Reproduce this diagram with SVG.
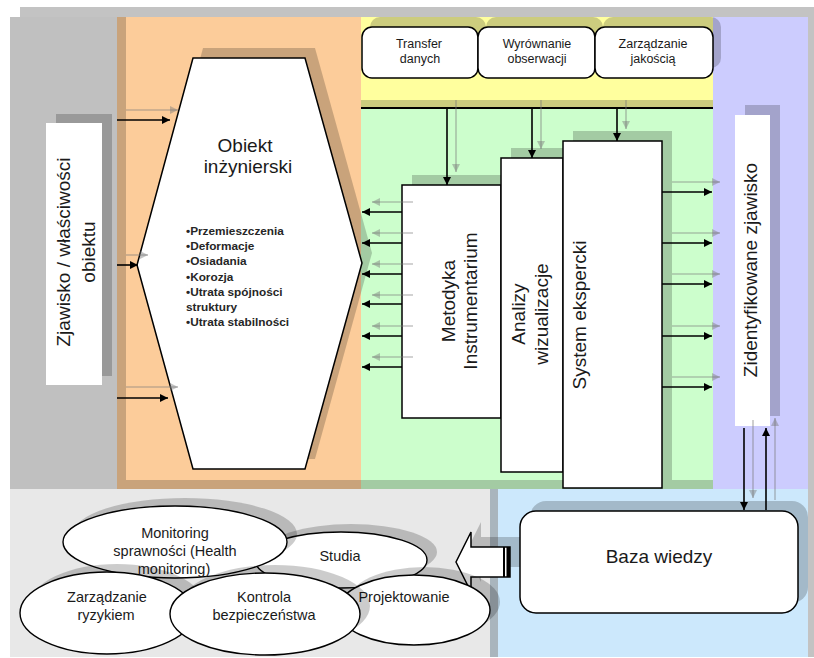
<svg xmlns="http://www.w3.org/2000/svg" width="814" height="658" viewBox="0 0 814 658">
<style>
text{font-family:"Liberation Sans",Arial,sans-serif;fill:#1a1a1a}
.sh{fill:#000;fill-opacity:0.2}
.box{fill:#fff;stroke:#000;stroke-width:1.5}
.bk{stroke:#000;stroke-width:1.6;fill:none}
.gy{stroke:#7a7a7a;stroke-opacity:0.45;stroke-width:1.6;fill:none}
.ell{fill:#fff;stroke:#000;stroke-width:1.4}
.t12{font-size:12.5px}
.bl{font-size:11.8px;font-weight:bold;fill:#262626}
.t14{font-size:14.5px}
.t19{font-size:19px}
</style>
<defs>
<marker id="ab" viewBox="0 0 10 10" refX="10" refY="5" markerWidth="9" markerHeight="8" markerUnits="userSpaceOnUse" orient="auto"><path d="M0,0 L10,5 L0,10 z" fill="#000"/></marker>
<marker id="ag" viewBox="0 0 10 10" refX="10" refY="5" markerWidth="9" markerHeight="8" markerUnits="userSpaceOnUse" orient="auto"><path d="M0,0 L10,5 L0,10 z" fill="#7a7a7a" fill-opacity="0.45"/></marker>
</defs>
<rect width="814" height="658" fill="#fff"/>
<g id="panels">
<rect x="20" y="7" width="794" height="10" fill="#c3c3c3"/>
<rect x="808" y="7" width="6" height="650" fill="#c3c3c3"/>
<rect x="10" y="17" width="107" height="473" fill="#c0c0c0"/>
<rect x="117" y="17" width="244" height="472" fill="#fccc9a"/>
<rect x="117" y="17" width="9" height="472" class="sh"/>
<rect x="126" y="480" width="235" height="9" class="sh"/>
<rect x="361" y="17" width="352" height="91" fill="#ffff9e"/>
<rect x="361" y="100" width="352" height="8" class="sh"/>
<line x1="713" y1="99.5" x2="722" y2="99.5" stroke="#000" stroke-opacity="0.2" stroke-width="1.5"/>
<rect x="361" y="108" width="352" height="381" fill="#ccfecc"/>
<rect x="361" y="480" width="352" height="9" class="sh"/>
<rect x="713" y="17" width="95" height="472" fill="#ccccfe"/>
<rect x="10" y="489" width="480" height="168" fill="#e8e8e8"/>
<rect x="490" y="489" width="318" height="168" fill="#cce8fc"/>
<rect x="490" y="489" width="8" height="168" fill="#a9b5bd"/>
<line x1="361" y1="108" x2="713" y2="108" stroke="#000" stroke-width="2"/>
</g>
<g id="zjawisko">
<rect x="56" y="114" width="56" height="262" class="sh"/>
<rect x="46" y="123" width="56" height="262" fill="#fff"/>
<text class="t19" text-anchor="middle" transform="translate(70,252) rotate(-90)">Zjawisko / właściwości</text>
<text class="t19" text-anchor="middle" transform="translate(95,252) rotate(-90)">obiektu</text>
</g>
<g id="obiekt">
<polygon points="203,48 315,48 372,253 315,459 203,459 147,255" class="sh"/>
<polygon points="193,58 305,58 362,263 305,469 193,469 137,265" fill="#fff" stroke="#000" stroke-width="1.5"/>
<text class="t19" text-anchor="middle" x="245" y="152">Obiekt</text>
<text class="t19" text-anchor="middle" x="248" y="173">inżynierski</text>
<text class="bl" x="186" y="235">•Przemieszczenia</text>
<text class="bl" x="186" y="250.2">•Deformacje</text>
<text class="bl" x="186" y="265.4">•Osiadania</text>
<text class="bl" x="186" y="280.6">•Korozja</text>
<text class="bl" x="186" y="295.8">•Utrata spójności</text>
<text class="bl" x="186" y="311">struktury</text>
<text class="bl" x="186" y="326.2">•Utrata stabilności</text>
</g>
<g id="top-shadows">
<rect x="370" y="17" width="116" height="51" rx="10" class="sh"/>
<rect x="486" y="17" width="117" height="51" rx="10" class="sh"/>
<rect x="603" y="17" width="118" height="51" rx="10" class="sh"/>
</g>
<g id="transfer">
<rect x="362" y="27" width="116" height="51" rx="10" class="box"/>
<text class="t12" text-anchor="middle" x="419" y="48">Transfer</text>
<text class="t12" text-anchor="middle" x="420" y="63">danych</text>
</g>
<g id="wyrownanie">
<rect x="478" y="27" width="117" height="51" rx="10" class="box"/>
<text class="t12" text-anchor="middle" x="537" y="48">Wyrównanie</text>
<text class="t12" text-anchor="middle" x="537" y="63">obserwacji</text>
</g>
<g id="zarzadzanie-jakoscia">
<rect x="595" y="27" width="118" height="51" rx="10" class="box"/>
<text class="t12" text-anchor="middle" x="653" y="48">Zarządzanie</text>
<text class="t12" text-anchor="middle" x="653" y="63">jakością</text>
</g>
<g id="metodyka">
<rect x="412" y="175" width="99" height="233" class="sh"/>
<rect x="402" y="185" width="99" height="233" class="box"/>
<text class="t19" text-anchor="middle" transform="translate(455,301) rotate(-90)">Metodyka</text>
<text class="t19" text-anchor="middle" transform="translate(477,301) rotate(-90)">Instrumentarium</text>
</g>
<g id="analizy">
<rect x="511" y="148" width="62" height="314" class="sh"/>
<rect x="501" y="158" width="62" height="314" class="box"/>
<text class="t19" text-anchor="middle" transform="translate(525,314) rotate(-90)">Analizy</text>
<text class="t19" text-anchor="middle" transform="translate(548,314) rotate(-90)">wizualizacje</text>
</g>
<g id="system">
<rect x="573" y="131" width="99" height="349" class="sh"/>
<rect x="563" y="141" width="99" height="347" class="box"/>
<text class="t19" text-anchor="middle" transform="translate(586,315) rotate(-90)">System ekspercki</text>
</g>
<g id="zidentyfikowane">
<rect x="745" y="105" width="35" height="311" class="sh"/>
<rect x="735" y="115" width="35" height="311" fill="#fff"/>
<text class="t19" text-anchor="middle" transform="translate(757,270) rotate(-90)">Zidentyfikowane zjawisko</text>
</g>
<g id="baza">
<rect x="530" y="501" width="278" height="102" rx="16" class="sh"/>
<rect x="520" y="511" width="278" height="102" rx="16" class="box"/>
<text class="t19" text-anchor="middle" x="659" y="563">Baza wiedzy</text>
</g>
<g id="big-arrow">
<polygon points="520,537 481,537 481,522 466,552 481,582 481,567 520,567" class="sh"/>
<polygon points="510,547 471,547 471,532 456,562 471,592 471,577 510,577" fill="#fff" stroke="#000" stroke-width="1.5"/>
<rect x="503" y="547" width="2" height="30" fill="#000"/>
<rect x="506.5" y="547" width="3.5" height="30" fill="#000"/>
</g>
<g id="studia">
<ellipse cx="351" cy="552" rx="86" ry="28" class="sh"/>
<ellipse cx="341" cy="560" rx="86" ry="28" class="ell"/>
<text class="t14" text-anchor="middle" x="340" y="561">Studia</text>
</g>
<g id="monitoring">
<ellipse cx="185" cy="534" rx="112" ry="36" class="sh"/>
<ellipse cx="175" cy="542" rx="112" ry="36" class="ell"/>
<text class="t14" text-anchor="middle" x="175" y="538">Monitoring</text>
<text class="t14" text-anchor="middle" x="175" y="556">sprawności (Health</text>
<text class="t14" text-anchor="middle" x="174" y="574">monitoring)</text>
</g>
<g id="projektowanie">
<ellipse cx="424" cy="602" rx="76" ry="35" class="sh"/>
<ellipse cx="414" cy="610" rx="76" ry="35" class="ell"/>
<text class="t14" text-anchor="middle" x="404" y="602">Projektowanie</text>
</g>
<g id="zarzadzanie-ryzykiem">
<ellipse cx="117" cy="605" rx="87" ry="41" class="sh"/>
<ellipse cx="107" cy="613" rx="87" ry="41" class="ell"/>
<text class="t14" text-anchor="middle" x="107" y="602">Zarządzanie</text>
<text class="t14" text-anchor="middle" x="106" y="620">ryzykiem</text>
</g>
<g id="kontrola">
<ellipse cx="275" cy="606" rx="95" ry="41" class="sh"/>
<ellipse cx="265" cy="614" rx="95" ry="41" class="ell"/>
<text class="t14" text-anchor="middle" x="264" y="602">Kontrola</text>
<text class="t14" text-anchor="middle" x="264" y="620">bezpieczeństwa</text>
</g>
<g id="connectors">
<line x1="126" y1="110" x2="178" y2="110" class="gy" marker-end="url(#ag)"/>
<line x1="117" y1="120" x2="170" y2="120" class="bk" marker-end="url(#ab)"/>
<line x1="126" y1="255" x2="148" y2="255" class="gy" marker-end="url(#ag)"/>
<line x1="117" y1="265" x2="138" y2="265" class="bk" marker-end="url(#ab)"/>
<line x1="126" y1="387" x2="178" y2="387" class="gy" marker-end="url(#ag)"/>
<line x1="117" y1="398" x2="168" y2="398" class="bk" marker-end="url(#ab)"/>
<line x1="456" y1="100" x2="456" y2="172" class="gy" marker-end="url(#ag)"/>
<line x1="447" y1="108" x2="447" y2="185" class="bk" marker-end="url(#ab)"/>
<line x1="541" y1="100" x2="541" y2="149" class="gy" marker-end="url(#ag)"/>
<line x1="532" y1="108" x2="532" y2="158" class="bk" marker-end="url(#ab)"/>
<line x1="626" y1="100" x2="626" y2="129" class="gy" marker-end="url(#ag)"/>
<line x1="617" y1="108" x2="617" y2="141" class="bk" marker-end="url(#ab)"/>
<line x1="413" y1="202" x2="372" y2="202" class="gy" marker-end="url(#ag)"/>
<line x1="402" y1="212" x2="362" y2="212" class="bk" marker-end="url(#ab)"/>
<line x1="413" y1="233" x2="372" y2="233" class="gy" marker-end="url(#ag)"/>
<line x1="402" y1="243" x2="362" y2="243" class="bk" marker-end="url(#ab)"/>
<line x1="413" y1="264" x2="372" y2="264" class="gy" marker-end="url(#ag)"/>
<line x1="402" y1="274" x2="362" y2="274" class="bk" marker-end="url(#ab)"/>
<line x1="413" y1="295" x2="372" y2="295" class="gy" marker-end="url(#ag)"/>
<line x1="402" y1="304" x2="362" y2="304" class="bk" marker-end="url(#ab)"/>
<line x1="413" y1="326" x2="372" y2="326" class="gy" marker-end="url(#ag)"/>
<line x1="402" y1="336" x2="362" y2="336" class="bk" marker-end="url(#ab)"/>
<line x1="413" y1="357" x2="372" y2="357" class="gy" marker-end="url(#ag)"/>
<line x1="402" y1="367" x2="362" y2="367" class="bk" marker-end="url(#ab)"/>
<line x1="672" y1="182" x2="720" y2="182" class="gy" marker-end="url(#ag)"/>
<line x1="662" y1="192" x2="712" y2="192" class="bk" marker-end="url(#ab)"/>
<line x1="672" y1="233" x2="720" y2="233" class="gy" marker-end="url(#ag)"/>
<line x1="662" y1="243" x2="712" y2="243" class="bk" marker-end="url(#ab)"/>
<line x1="672" y1="274" x2="720" y2="274" class="gy" marker-end="url(#ag)"/>
<line x1="662" y1="284" x2="712" y2="284" class="bk" marker-end="url(#ab)"/>
<line x1="672" y1="326" x2="720" y2="326" class="gy" marker-end="url(#ag)"/>
<line x1="662" y1="336" x2="712" y2="336" class="bk" marker-end="url(#ab)"/>
<line x1="672" y1="377" x2="720" y2="377" class="gy" marker-end="url(#ag)"/>
<line x1="662" y1="387" x2="712" y2="387" class="bk" marker-end="url(#ab)"/>
<line x1="753" y1="420" x2="753" y2="498" class="gy" marker-end="url(#ag)"/>
<line x1="744" y1="428" x2="744" y2="510" class="bk" marker-end="url(#ab)"/>
<line x1="775" y1="500" x2="775" y2="418" class="gy" marker-end="url(#ag)"/>
<line x1="766" y1="510" x2="766" y2="428" class="bk" marker-end="url(#ab)"/>
</g>
</svg>
